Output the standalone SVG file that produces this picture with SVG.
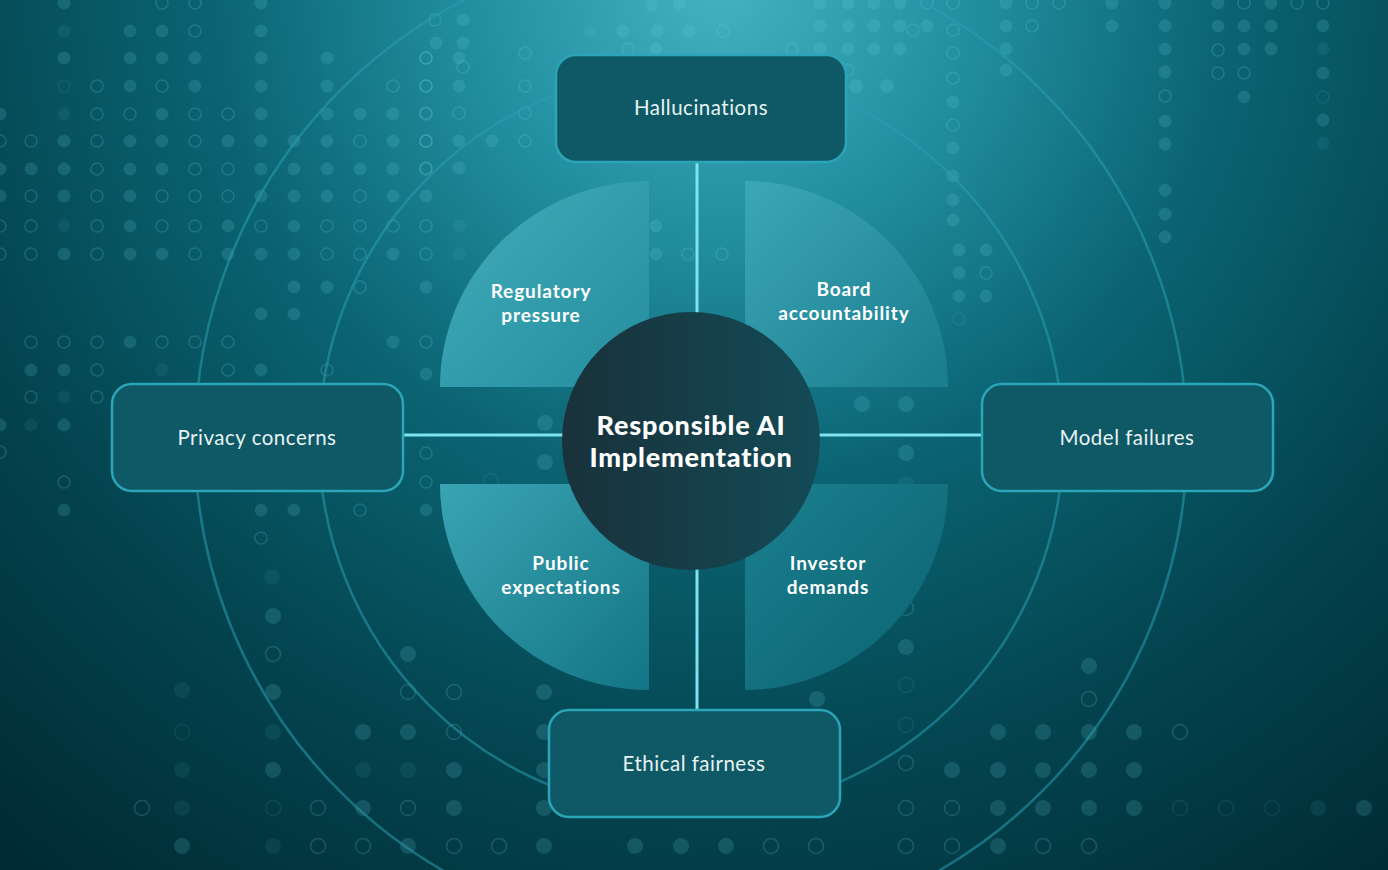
<svg xmlns="http://www.w3.org/2000/svg" width="1388" height="870" viewBox="0 0 1388 870">
<defs>
<radialGradient id="bg" gradientUnits="userSpaceOnUse" cx="720" cy="-20" r="1120">
<stop offset="0" stop-color="#46b2c2"/>
<stop offset="0.22" stop-color="#2290a1"/>
<stop offset="0.45" stop-color="#0b6473"/>
<stop offset="0.72" stop-color="#03444f"/>
<stop offset="1" stop-color="#012b34"/>
</radialGradient>
<linearGradient id="gtl" x1="0" y1="0" x2="1" y2="1"><stop offset="0" stop-color="#42adbc"/><stop offset="1" stop-color="#258d9d"/></linearGradient>
<linearGradient id="gtr" x1="0" y1="0" x2="1" y2="1"><stop offset="0" stop-color="#3ca7b7"/><stop offset="1" stop-color="#1a7c8d"/></linearGradient>
<linearGradient id="gbl" x1="0" y1="0" x2="1" y2="1"><stop offset="0" stop-color="#3aa4b4"/><stop offset="1" stop-color="#137585"/></linearGradient>
<linearGradient id="gbr" x1="0" y1="0" x2="1" y2="1"><stop offset="0" stop-color="#1c808f"/><stop offset="1" stop-color="#0a6170"/></linearGradient>
<linearGradient id="hub" x1="0" y1="0" x2="1" y2="0">
<stop offset="0" stop-color="#19313a"/>
<stop offset="1" stop-color="#134b57"/>
</linearGradient>
<style>
.a{fill:#6fd6e4;fill-opacity:.17}
.fa{fill:#6fd6e4;fill-opacity:.08}
.b{fill:none;stroke:#6fd6e4;stroke-opacity:.2;stroke-width:1.6}
.fb{fill:none;stroke:#6fd6e4;stroke-opacity:.1;stroke-width:1.6}
.ring{fill:none;stroke:#2a9fb1;stroke-opacity:.55;stroke-width:2.5}
.box{fill:#0e5965;stroke:#2ba5b8;stroke-width:2.5}
.link{stroke:#7fe2f0;stroke-width:3;fill:none}
.lbl{font-family:Lato,"Noto Sans",sans-serif;font-size:20.5px;font-weight:400;letter-spacing:.5px;fill:#e6f2f4;text-anchor:middle}
.ql{font-family:Lato,"Noto Sans",sans-serif;font-size:19px;font-weight:700;letter-spacing:.9px;fill:#ffffff;text-anchor:middle}
.hl{font-family:Lato,"Noto Sans",sans-serif;font-size:27px;font-weight:900;letter-spacing:.8px;fill:#ffffff;text-anchor:middle}
</style>
</defs>
<rect width="1388" height="870" fill="url(#bg)"/>
<g id="dots">
<g id="dots-top-left">
<circle class="a" cx="64" cy="3" r="6.5"/><circle class="b" cx="162" cy="3" r="6"/><circle class="b" cx="195" cy="3" r="6"/><circle class="a" cx="261" cy="3" r="6.5"/>
<circle class="fa" cx="64" cy="31" r="6.5"/><circle class="a" cx="130" cy="31" r="6.5"/><circle class="a" cx="162" cy="31" r="6.5"/><circle class="b" cx="195" cy="31" r="6"/><circle class="a" cx="261" cy="31" r="6.5"/>
<circle class="a" cx="64" cy="58" r="6.5"/><circle class="a" cx="130" cy="58" r="6.5"/><circle class="a" cx="162" cy="58" r="6.5"/><circle class="a" cx="195" cy="58" r="6.5"/><circle class="a" cx="261" cy="58" r="6.5"/><circle class="a" cx="327" cy="58" r="6.5"/><circle class="b" cx="426" cy="58" r="6"/>
<circle class="fb" cx="64" cy="86" r="6"/><circle class="b" cx="97" cy="86" r="6"/><circle class="a" cx="130" cy="86" r="6.5"/><circle class="b" cx="162" cy="86" r="6"/><circle class="a" cx="195" cy="86" r="6.5"/><circle class="a" cx="261" cy="86" r="6.5"/><circle class="a" cx="327" cy="86" r="6.5"/><circle class="b" cx="393" cy="86" r="6"/><circle class="b" cx="426" cy="86" r="6"/>
<circle class="a" cx="0" cy="114" r="6.5"/><circle class="fa" cx="64" cy="114" r="6.5"/><circle class="b" cx="97" cy="114" r="6"/><circle class="b" cx="130" cy="114" r="6"/><circle class="a" cx="162" cy="114" r="6.5"/><circle class="b" cx="195" cy="114" r="6"/><circle class="b" cx="228" cy="114" r="6"/><circle class="a" cx="261" cy="114" r="6.5"/><circle class="a" cx="327" cy="114" r="6.5"/><circle class="a" cx="360" cy="114" r="6.5"/><circle class="a" cx="393" cy="114" r="6.5"/><circle class="b" cx="426" cy="114" r="6"/>
<circle class="b" cx="0" cy="141" r="6"/><circle class="b" cx="31" cy="141" r="6"/><circle class="a" cx="64" cy="141" r="6.5"/><circle class="b" cx="97" cy="141" r="6"/><circle class="a" cx="130" cy="141" r="6.5"/><circle class="a" cx="162" cy="141" r="6.5"/><circle class="b" cx="195" cy="141" r="6"/><circle class="a" cx="228" cy="141" r="6.5"/><circle class="a" cx="261" cy="141" r="6.5"/><circle class="a" cx="294" cy="141" r="6.5"/><circle class="a" cx="327" cy="141" r="6.5"/><circle class="b" cx="360" cy="141" r="6"/><circle class="a" cx="393" cy="141" r="6.5"/><circle class="b" cx="426" cy="141" r="6"/>
<circle class="a" cx="0" cy="169" r="6.5"/><circle class="a" cx="31" cy="169" r="6.5"/><circle class="a" cx="64" cy="169" r="6.5"/><circle class="b" cx="97" cy="169" r="6"/><circle class="a" cx="130" cy="169" r="6.5"/><circle class="a" cx="162" cy="169" r="6.5"/><circle class="b" cx="195" cy="169" r="6"/><circle class="b" cx="228" cy="169" r="6"/><circle class="a" cx="261" cy="169" r="6.5"/><circle class="a" cx="294" cy="169" r="6.5"/><circle class="a" cx="327" cy="169" r="6.5"/><circle class="a" cx="360" cy="169" r="6.5"/><circle class="a" cx="393" cy="169" r="6.5"/><circle class="b" cx="426" cy="169" r="6"/>
<circle class="a" cx="0" cy="196" r="6.5"/><circle class="b" cx="31" cy="196" r="6"/><circle class="a" cx="64" cy="196" r="6.5"/><circle class="b" cx="97" cy="196" r="6"/><circle class="a" cx="130" cy="196" r="6.5"/><circle class="b" cx="162" cy="196" r="6"/><circle class="b" cx="195" cy="196" r="6"/><circle class="b" cx="228" cy="196" r="6"/><circle class="a" cx="261" cy="196" r="6.5"/><circle class="a" cx="294" cy="196" r="6.5"/><circle class="a" cx="327" cy="196" r="6.5"/><circle class="b" cx="360" cy="196" r="6"/><circle class="a" cx="393" cy="196" r="6.5"/><circle class="a" cx="426" cy="196" r="6.5"/>
<circle class="b" cx="0" cy="226" r="6"/><circle class="b" cx="31" cy="226" r="6"/><circle class="fa" cx="64" cy="226" r="6.5"/><circle class="b" cx="97" cy="226" r="6"/><circle class="a" cx="130" cy="226" r="6.5"/><circle class="b" cx="162" cy="226" r="6"/><circle class="b" cx="195" cy="226" r="6"/><circle class="a" cx="228" cy="226" r="6.5"/><circle class="b" cx="261" cy="226" r="6"/><circle class="a" cx="294" cy="226" r="6.5"/><circle class="b" cx="327" cy="226" r="6"/><circle class="b" cx="360" cy="226" r="6"/><circle class="b" cx="393" cy="226" r="6"/><circle class="b" cx="426" cy="226" r="6"/>
<circle class="b" cx="0" cy="254" r="6"/><circle class="b" cx="31" cy="254" r="6"/><circle class="a" cx="64" cy="254" r="6.5"/><circle class="b" cx="97" cy="254" r="6"/><circle class="a" cx="130" cy="254" r="6.5"/><circle class="a" cx="162" cy="254" r="6.5"/><circle class="b" cx="195" cy="254" r="6"/><circle class="a" cx="228" cy="254" r="6.5"/><circle class="a" cx="261" cy="254" r="6.5"/><circle class="a" cx="294" cy="254" r="6.5"/><circle class="b" cx="327" cy="254" r="6"/><circle class="b" cx="360" cy="254" r="6"/><circle class="a" cx="393" cy="254" r="6.5"/><circle class="b" cx="426" cy="254" r="6"/>
<circle class="a" cx="294" cy="287" r="6.5"/><circle class="a" cx="327" cy="287" r="6.5"/><circle class="b" cx="360" cy="287" r="6"/><circle class="a" cx="426" cy="287" r="6.5"/>
</g>
<g id="dots-left">
<circle class="a" cx="261" cy="314" r="6.5"/><circle class="a" cx="294" cy="314" r="6.5"/>
<circle class="b" cx="31" cy="342" r="6"/><circle class="b" cx="64" cy="342" r="6"/><circle class="b" cx="97" cy="342" r="6"/><circle class="a" cx="130" cy="342" r="6.5"/><circle class="b" cx="162" cy="342" r="6"/><circle class="b" cx="195" cy="342" r="6"/><circle class="b" cx="228" cy="342" r="6"/><circle class="a" cx="393" cy="342" r="6.5"/><circle class="b" cx="426" cy="342" r="6"/>
<circle class="a" cx="31" cy="370" r="6.5"/><circle class="a" cx="64" cy="370" r="6.5"/><circle class="b" cx="97" cy="370" r="6"/><circle class="fa" cx="162" cy="370" r="6.5"/><circle class="b" cx="228" cy="370" r="6"/><circle class="a" cx="261" cy="370" r="6.5"/><circle class="b" cx="327" cy="370" r="6"/><circle class="a" cx="426" cy="374" r="6.5"/>
<circle class="b" cx="31" cy="397" r="6"/><circle class="fa" cx="64" cy="397" r="6.5"/><circle class="b" cx="97" cy="397" r="6"/>
<circle class="a" cx="0" cy="425" r="6.5"/><circle class="fa" cx="31" cy="425" r="6.5"/><circle class="a" cx="64" cy="425" r="6.5"/>
<circle class="b" cx="0" cy="452" r="6"/><circle class="b" cx="426" cy="453" r="6"/>
<circle class="b" cx="64" cy="482" r="6"/><circle class="b" cx="426" cy="482" r="6"/>
<circle class="a" cx="64" cy="510" r="6.5"/><circle class="a" cx="261" cy="510" r="6.5"/><circle class="a" cx="294" cy="510" r="6.5"/><circle class="b" cx="360" cy="510" r="6"/><circle class="a" cx="426" cy="510" r="6.5"/>
<circle class="b" cx="261" cy="538" r="6"/>
<circle class="fa" cx="272" cy="577" r="8"/>
</g>
<g id="dots-top-center">
<circle class="b" cx="435" cy="20" r="6"/><circle class="a" cx="463" cy="20" r="6.5"/><circle class="a" cx="436" cy="43" r="6.5"/><circle class="a" cx="463" cy="43" r="6.5"/>
<circle class="b" cx="426" cy="58" r="6"/><circle class="a" cx="459" cy="58" r="6.5"/><circle class="b" cx="463" cy="67" r="6"/><circle class="b" cx="426" cy="86" r="6"/><circle class="a" cx="459" cy="86" r="6.5"/>
<circle class="b" cx="525" cy="53" r="6"/><circle class="b" cx="525" cy="86" r="6"/><circle class="b" cx="426" cy="113" r="6"/><circle class="b" cx="459" cy="113" r="6"/><circle class="b" cx="525" cy="113" r="6"/>
<circle class="b" cx="426" cy="141" r="6"/><circle class="a" cx="459" cy="141" r="6.5"/><circle class="a" cx="492" cy="141" r="6.5"/><circle class="b" cx="525" cy="141" r="6"/><circle class="b" cx="426" cy="168" r="6"/><circle class="a" cx="459" cy="168" r="6.5"/>
<circle class="fa" cx="590" cy="31" r="6.5"/><circle class="a" cx="623" cy="31" r="6.5"/><circle class="a" cx="657" cy="31" r="6.5"/><circle class="a" cx="689" cy="31" r="6.5"/><circle class="b" cx="723" cy="31" r="6"/>
<circle class="b" cx="628" cy="49" r="6"/><circle class="a" cx="656" cy="49" r="6.5"/><circle class="a" cx="652" cy="5" r="6.5"/><circle class="a" cx="679" cy="3" r="6.5"/>
<circle class="a" cx="820" cy="3" r="6.5"/><circle class="a" cx="820" cy="26" r="6.5"/><circle class="b" cx="792" cy="49" r="6"/><circle class="a" cx="820" cy="49" r="6.5"/>
<circle class="fa" cx="459" cy="226" r="6.5"/><circle class="fa" cx="459" cy="254" r="6.5"/><circle class="a" cx="656" cy="226" r="6.5"/><circle class="a" cx="656" cy="254" r="6.5"/><circle class="b" cx="688" cy="254" r="6"/><circle class="b" cx="722" cy="254" r="6"/>
</g>
<g id="dots-top-right">
<circle class="a" cx="848" cy="3" r="6.5"/><circle class="a" cx="874" cy="3" r="6.5"/><circle class="a" cx="900" cy="3" r="6.5"/><circle class="b" cx="927" cy="3" r="6"/><circle class="b" cx="953" cy="3" r="6"/><circle class="a" cx="1006" cy="3" r="6.5"/><circle class="b" cx="1032" cy="3" r="6"/><circle class="b" cx="1059" cy="3" r="6"/><circle class="a" cx="1112" cy="3" r="6.5"/><circle class="a" cx="1165" cy="3" r="6.5"/><circle class="a" cx="1218" cy="3" r="6.5"/><circle class="b" cx="1244" cy="3" r="6"/><circle class="a" cx="1271" cy="3" r="6.5"/><circle class="b" cx="1297" cy="3" r="6"/><circle class="b" cx="1323" cy="3" r="6"/>
<circle class="a" cx="848" cy="26" r="6.5"/><circle class="a" cx="874" cy="26" r="6.5"/><circle class="a" cx="900" cy="26" r="6.5"/><circle class="b" cx="913" cy="30" r="6"/><circle class="a" cx="927" cy="26" r="6.5"/><circle class="b" cx="953" cy="30" r="6"/><circle class="a" cx="1006" cy="26" r="6.5"/><circle class="b" cx="1032" cy="26" r="6"/><circle class="a" cx="1112" cy="26" r="6.5"/><circle class="a" cx="1165" cy="26" r="6.5"/><circle class="a" cx="1218" cy="26" r="6.5"/><circle class="a" cx="1244" cy="26" r="6.5"/><circle class="a" cx="1271" cy="26" r="6.5"/><circle class="a" cx="1323" cy="26" r="6.5"/>
<circle class="a" cx="848" cy="49" r="6.5"/><circle class="a" cx="874" cy="49" r="6.5"/><circle class="a" cx="900" cy="49" r="6.5"/><circle class="b" cx="953" cy="53" r="6"/><circle class="a" cx="1006" cy="49" r="6.5"/><circle class="a" cx="1165" cy="49" r="6.5"/><circle class="b" cx="1218" cy="50" r="6"/><circle class="a" cx="1244" cy="49" r="6.5"/><circle class="a" cx="1271" cy="49" r="6.5"/><circle class="fa" cx="1323" cy="49" r="6.5"/>
<circle class="b" cx="848" cy="70" r="6"/><circle class="b" cx="953" cy="78" r="6"/><circle class="a" cx="1006" cy="70" r="6.5"/><circle class="a" cx="1165" cy="72" r="6.5"/><circle class="b" cx="1218" cy="73" r="6"/><circle class="b" cx="1244" cy="73" r="6"/><circle class="a" cx="1323" cy="73" r="6.5"/>
<circle class="a" cx="856" cy="86" r="7"/><circle class="a" cx="887" cy="86" r="7"/>
<circle class="b" cx="1165" cy="96" r="6"/><circle class="a" cx="1244" cy="97" r="6.5"/><circle class="fb" cx="1323" cy="97" r="6"/>
<circle class="a" cx="953" cy="102" r="6.5"/><circle class="a" cx="1165" cy="121" r="6.5"/><circle class="a" cx="1323" cy="120" r="6.5"/><circle class="b" cx="953" cy="125" r="6"/>
<circle class="a" cx="953" cy="148" r="6.5"/><circle class="a" cx="1165" cy="144" r="6.5"/><circle class="fa" cx="1323" cy="143" r="6.5"/>
<circle class="a" cx="953" cy="176" r="6.5"/><circle class="a" cx="1165" cy="190" r="6.5"/><circle class="a" cx="953" cy="200" r="6.5"/><circle class="a" cx="1165" cy="214" r="6.5"/><circle class="a" cx="953" cy="220" r="6.5"/><circle class="a" cx="1165" cy="237" r="6.5"/>
<circle class="a" cx="959" cy="250" r="6.5"/><circle class="a" cx="986" cy="250" r="6.5"/><circle class="a" cx="959" cy="273" r="6.5"/><circle class="b" cx="986" cy="273" r="6"/><circle class="a" cx="959" cy="296" r="6.5"/><circle class="a" cx="986" cy="296" r="6.5"/><circle class="fb" cx="959" cy="319" r="6"/>
</g>
<g id="dots-middle">
<circle class="a" cx="862" cy="404" r="8"/><circle class="a" cx="906" cy="404" r="8"/><circle class="a" cx="906" cy="453" r="8"/><circle class="fa" cx="906" cy="484" r="8"/>
<circle class="a" cx="545" cy="423" r="8"/><circle class="a" cx="545" cy="462" r="8"/><circle class="fb" cx="491" cy="481" r="7.5"/>
<circle class="b" cx="906" cy="608" r="7.5"/><circle class="a" cx="906" cy="647" r="8"/><circle class="fb" cx="906" cy="685" r="7.5"/><circle class="fb" cx="906" cy="725" r="7.5"/><circle class="b" cx="906" cy="763" r="7.5"/><circle class="a" cx="817" cy="699" r="8"/>
</g>
<g id="dots-bottom-left">
<circle class="a" cx="273" cy="616" r="8"/><circle class="b" cx="273" cy="654" r="7.5"/><circle class="a" cx="408" cy="654" r="8"/><circle class="fa" cx="182" cy="690" r="8"/><circle class="a" cx="273" cy="692" r="8"/><circle class="b" cx="408" cy="692" r="7.5"/><circle class="b" cx="454" cy="692" r="7.5"/><circle class="a" cx="544" cy="692" r="8"/>
<circle class="fb" cx="182" cy="732" r="7.5"/><circle class="fa" cx="273" cy="732" r="8"/><circle class="a" cx="363" cy="732" r="8"/><circle class="a" cx="408" cy="732" r="8"/><circle class="b" cx="454" cy="732" r="7.5"/><circle class="a" cx="544" cy="732" r="8"/>
<circle class="fa" cx="182" cy="770" r="8"/><circle class="a" cx="273" cy="770" r="8"/><circle class="fa" cx="363" cy="770" r="8"/><circle class="fa" cx="408" cy="770" r="8"/><circle class="a" cx="454" cy="770" r="8"/><circle class="a" cx="544" cy="770" r="8"/>
<circle class="b" cx="142" cy="808" r="7.5"/><circle class="fa" cx="182" cy="808" r="8"/><circle class="fb" cx="273" cy="808" r="7.5"/><circle class="b" cx="318" cy="808" r="7.5"/><circle class="a" cx="363" cy="808" r="8"/><circle class="b" cx="408" cy="808" r="7.5"/><circle class="a" cx="454" cy="808" r="8"/><circle class="a" cx="544" cy="808" r="8"/>
<circle class="a" cx="182" cy="846" r="8"/><circle class="fa" cx="273" cy="846" r="8"/><circle class="b" cx="318" cy="846" r="7.5"/><circle class="b" cx="363" cy="846" r="7.5"/><circle class="a" cx="408" cy="846" r="8"/><circle class="b" cx="454" cy="846" r="7.5"/><circle class="b" cx="499" cy="846" r="7.5"/><circle class="a" cx="544" cy="846" r="8"/>
<circle class="a" cx="635" cy="846" r="8"/><circle class="a" cx="681" cy="846" r="8"/><circle class="a" cx="726" cy="846" r="8"/><circle class="b" cx="771" cy="846" r="7.5"/><circle class="b" cx="816" cy="846" r="7.5"/>
</g>
<g id="dots-bottom-right">
<circle class="a" cx="1089" cy="666" r="8"/><circle class="b" cx="1089" cy="699" r="7.5"/>
<circle class="a" cx="998" cy="732" r="8"/><circle class="a" cx="1043" cy="732" r="8"/><circle class="a" cx="1089" cy="732" r="8"/><circle class="a" cx="1134" cy="732" r="8"/><circle class="b" cx="1180" cy="732" r="7.5"/>
<circle class="a" cx="952" cy="770" r="8"/><circle class="a" cx="998" cy="770" r="8"/><circle class="a" cx="1043" cy="770" r="8"/><circle class="a" cx="1089" cy="770" r="8"/><circle class="a" cx="1134" cy="770" r="8"/>
<circle class="b" cx="906" cy="808" r="7.5"/><circle class="b" cx="952" cy="808" r="7.5"/><circle class="a" cx="998" cy="808" r="8"/><circle class="a" cx="1043" cy="808" r="8"/><circle class="a" cx="1089" cy="808" r="8"/><circle class="a" cx="1134" cy="808" r="8"/><circle class="fb" cx="1180" cy="808" r="7.5"/><circle class="fb" cx="1226" cy="808" r="7.5"/><circle class="fb" cx="1272" cy="808" r="7.5"/><circle class="fa" cx="1318" cy="808" r="8"/><circle class="a" cx="1364" cy="808" r="8"/>
<circle class="b" cx="906" cy="846" r="7.5"/><circle class="b" cx="952" cy="846" r="7.5"/><circle class="a" cx="998" cy="846" r="8"/><circle class="b" cx="1043" cy="846" r="7.5"/><circle class="b" cx="1089" cy="846" r="7.5"/>
</g>
</g>
<g id="rings">
<circle class="ring" cx="691" cy="441" r="372"/>
<circle class="ring" cx="691" cy="441" r="496"/>
</g>
<g id="quadrants">
<g id="q-regulatory">
<path fill="url(#gtl)" d="M440,387 A209,206 0 0 1 649,181 L649,318 A69,69 0 0 1 580,387 Z"/>
<text class="ql" x="541" y="298">Regulatory</text>
<text class="ql" x="541" y="322">pressure</text>
</g>
<g id="q-board">
<path fill="url(#gtr)" d="M745,181 A203,206 0 0 1 948,387 L814,387 A69,69 0 0 1 745,318 Z"/>
<text class="ql" x="844" y="296">Board</text>
<text class="ql" x="844" y="320">accountability</text>
</g>
<g id="q-public">
<path fill="url(#gbl)" d="M440,484 L580,484 A69,69 0 0 1 649,553 L649,690 A209,206 0 0 1 440,484 Z"/>
<text class="ql" x="561" y="570">Public</text>
<text class="ql" x="561" y="594">expectations</text>
</g>
<g id="q-investor">
<path fill="url(#gbr)" d="M745,553 A69,69 0 0 1 814,484 L948,484 A203,206 0 0 1 745,690 Z"/>
<text class="ql" x="828" y="570">Investor</text>
<text class="ql" x="828" y="594">demands</text>
</g>
</g>
<g id="connectors">
<line class="link" x1="697" y1="163" x2="697" y2="710"/>
<line class="link" x1="403" y1="435" x2="982" y2="435"/>
</g>
<g id="hub">
<circle cx="691" cy="441" r="129" fill="url(#hub)"/>
<text class="hl" x="691" y="435">Responsible AI</text>
<text class="hl" x="691" y="467">Implementation</text>
</g>
<g id="n-hallucinations">
<rect class="box" x="556" y="55" width="290" height="107" rx="20"/>
<text class="lbl" x="701" y="115">Hallucinations</text>
</g>
<g id="n-privacy">
<rect class="box" x="112" y="384" width="291" height="107" rx="20"/>
<text class="lbl" x="257" y="445">Privacy concerns</text>
</g>
<g id="n-model">
<rect class="box" x="982" y="384" width="291" height="107" rx="20"/>
<text class="lbl" x="1127" y="445">Model failures</text>
</g>
<g id="n-ethical">
<rect class="box" x="549" y="710" width="291" height="107" rx="20"/>
<text class="lbl" x="694" y="771">Ethical fairness</text>
</g>
</svg>
